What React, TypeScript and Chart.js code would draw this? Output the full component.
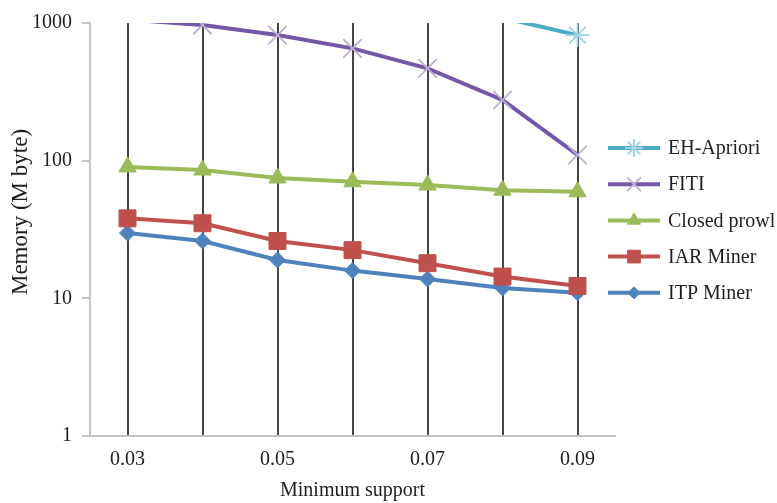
import React, { useEffect, useRef } from 'react';
import { Chart, registerables } from 'chart.js';
import { drawPoint } from 'chart.js/helpers';

Chart.register(...registerables);

const categories = ['0.03', '0.04', '0.05', '0.06', '0.07', '0.08', '0.09'];
const xTickLabels = ['0.03', '0.05', '0.07', '0.09'];
const yTickValues = [1, 10, 100, 1000];
const yMin = 1;
const yMax = 1000;

const ehApriori = [null, null, null, null, null, 1090, 817];
const fiti = [1060, 966, 817, 654, 468, 276, 110];
const closedProwl = [90, 85.5, 74.8, 70.3, 66.5, 61, 59.4];
const iarMiner = [38.1, 35.1, 26.1, 22.4, 18, 14.4, 12.3];
const itpMiner = [29.8, 26.1, 19, 15.9, 13.8, 11.9, 11];

const seriesNames = ['EH-Apriori', 'FITI', 'Closed prowl', 'IAR Miner', 'ITP Miner'];
const xTitle = 'Minimum support';
const yTitle = 'Memory (M byte)';

const FONT = '"Liberation Serif", "DejaVu Serif", serif';
const TEXT = '#1e1e1e';

function makeDataset(label: string, data: (number | null)[], color: string, markerColor: string, style: string, r: number, bw: number) {
  return {
    label,
    data,
    borderColor: color,
    backgroundColor: color,
    borderWidth: 4,
    pointStyle: style,
    pointBackgroundColor: markerColor,
    pointBorderColor: markerColor,
    pointBorderWidth: bw,
    pointRadius: (c: any) => (c.raw != null && c.raw > yMax ? 0 : r),
    pointHoverRadius: r,
    markerRadius: r,
    tension: 0,
    spanGaps: false,
    clip: { left: 20, right: 20, top: 0, bottom: 20 },
  };
}

const overlayPlugin = {
  id: 'overlay',
  afterDraw(chart: any) {
    const { ctx, chartArea } = chart;
    // y axis title
    ctx.save();
    ctx.translate(21, 212);
    ctx.rotate(-Math.PI / 2);
    ctx.font = `23px ${FONT}`;
    ctx.textAlign = 'center';
    ctx.textBaseline = 'middle';
    ctx.fillStyle = TEXT;
    ctx.fillText(yTitle, 0, 0);
    ctx.restore();

    // legend
    const x0 = chartArea.right - 7;
    const x1 = x0 + 52;
    chart.data.datasets.forEach((ds: any, i: number) => {
      const y = 148 + i * 36.2;
      ctx.save();
      ctx.strokeStyle = ds.borderColor;
      ctx.lineWidth = 4;
      ctx.beginPath();
      ctx.moveTo(x0, y);
      ctx.lineTo(x1, y);
      ctx.stroke();
      ctx.fillStyle = ds.pointBackgroundColor;
      ctx.strokeStyle = ds.pointBorderColor;
      ctx.lineWidth = ds.pointBorderWidth;
      drawPoint(ctx, { pointStyle: ds.pointStyle, rotation: 0, radius: ds.markerRadius * 0.75, borderWidth: ds.pointBorderWidth }, (x0 + x1) / 2, y);
      ctx.font = `20px ${FONT}`;
      ctx.fillStyle = TEXT;
      ctx.textAlign = 'left';
      ctx.textBaseline = 'middle';
      ctx.fillText(ds.label, x1 + 8, y + 1);
      ctx.restore();
    });
  },
};

export default function App() {
  const canvasRef = useRef<HTMLCanvasElement | null>(null);

  useEffect(() => {
    document.body.style.margin = '0';
    const canvas = canvasRef.current;
    if (!canvas) return;
    const chart = new Chart(canvas, {
      type: 'line',
      data: {
        labels: categories,
        datasets: [
          makeDataset(seriesNames[0], ehApriori, '#4bacc6', '#9fd3e2', 'star', 12, 1.8),
          makeDataset(seriesNames[1], fiti, '#7457a6', '#bcaed3', 'crossRot', 13, 1.8),
          makeDataset(seriesNames[2], closedProwl, '#9bbb59', '#9bbb59', 'triangle', 10, 1),
          makeDataset(seriesNames[3], iarMiner, '#c0504d', '#c0504d', 'rect', 12, 1),
          makeDataset(seriesNames[4], itpMiner, '#4f81bd', '#4f81bd', 'rectRot', 8, 1),
        ] as any,
      },
      options: {
        animation: false,
        responsive: false,
        devicePixelRatio: 1,
        layout: { padding: { left: 0, top: 23, right: 162, bottom: 0 } },
        plugins: {
          legend: { display: false },
          tooltip: { enabled: false },
        },
        scales: {
          x: {
            type: 'category',
            offset: true,
            afterFit: (s: any) => { s.height = 67; },
            grid: {
              display: true,
              drawOnChartArea: true,
              drawTicks: false,
              offset: false,
              color: '#444444',
              lineWidth: 2,
            },
            border: { display: true, color: '#c4c4c4', width: 2 },
            ticks: {
              autoSkip: false,
              maxRotation: 0,
              padding: 12,
              color: TEXT,
              font: { family: FONT, size: 20 },
              callback: (_v: any, idx: number) => (xTickLabels.includes(categories[idx]) ? categories[idx] : ''),
            },
            title: {
              display: true,
              text: xTitle,
              color: TEXT,
              font: { family: FONT, size: 20 },
              padding: { top: 0, bottom: 0 },
            },
          },
          y: {
            type: 'logarithmic',
            min: yMin,
            max: yMax,
            afterFit: (s: any) => { s.width = 90; },
            afterBuildTicks: (s: any) => { s.ticks = yTickValues.map((v) => ({ value: v })); },
            grid: {
              display: true,
              drawOnChartArea: false,
              drawTicks: true,
              tickLength: 8,
              color: '#c4c4c4',
              lineWidth: 2,
            },
            border: { display: true, color: '#c4c4c4', width: 2 },
            ticks: {
              padding: 10,
              color: TEXT,
              font: { family: FONT, size: 20 },
              callback: (v: any) => String(v),
            },
          },
        },
      },
      plugins: [overlayPlugin],
    });
    return () => chart.destroy();
  }, []);

  return (
    <div style={{ width: 777, height: 503 }}>
      <canvas ref={canvasRef} width={777} height={503} style={{ display: 'block' }} />
    </div>
  );
}
